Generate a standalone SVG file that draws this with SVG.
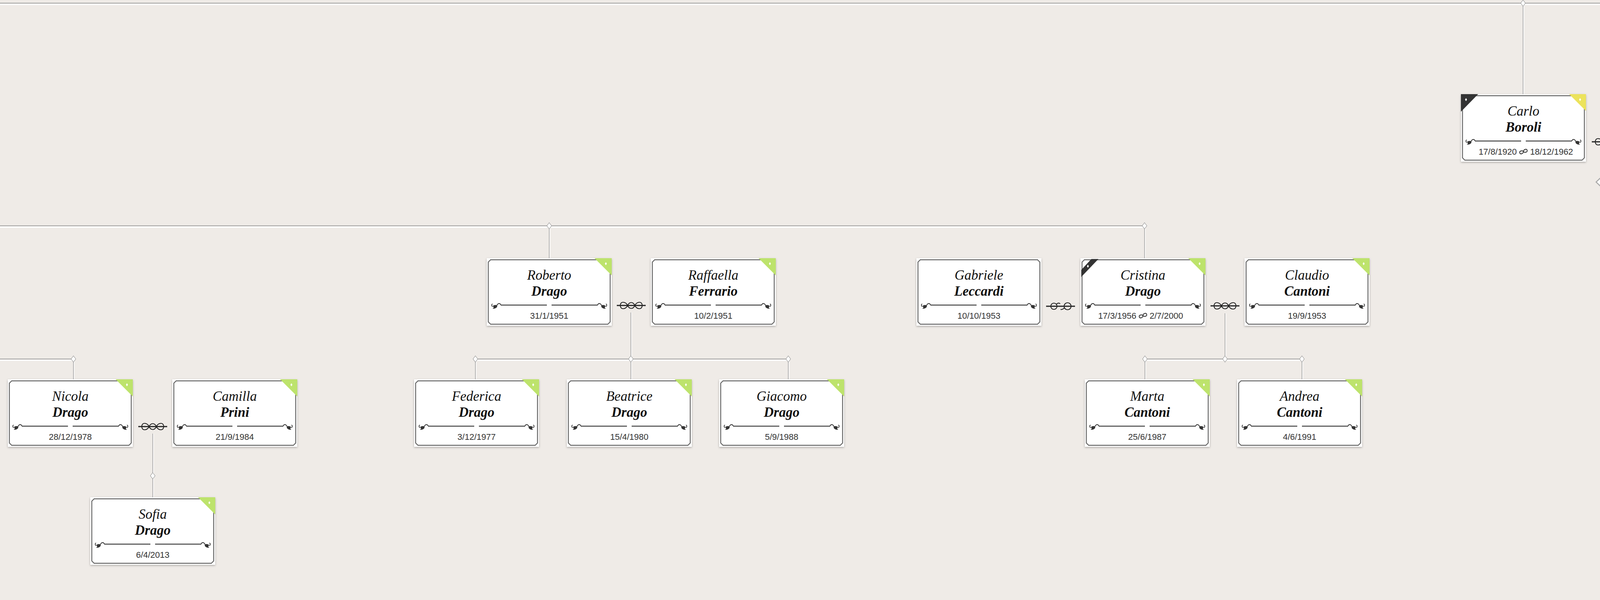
<svg xmlns="http://www.w3.org/2000/svg" width="8000" height="1536" viewBox="0 0 8000 1536">
<style>
.fn{font-family:"Liberation Serif","DejaVu Serif",serif;font-style:italic;font-size:35px;fill:#111;text-anchor:middle}
.ln{font-family:"Liberation Serif","DejaVu Serif",serif;font-style:italic;font-weight:bold;font-size:35px;fill:#111;text-anchor:middle}
.dt{font-family:"Liberation Sans",Arial,sans-serif;font-size:22px;fill:#333}
.c{text-anchor:middle}.e{text-anchor:end}.s{text-anchor:start}
.cg{stroke:#a4a4a4;stroke-width:2;fill:none}
.cw{stroke:#ffffff;stroke-width:3;fill:none}
.vg{stroke:#a4a4a4;stroke-width:1.6;fill:none}
.vw{stroke:#ffffff;stroke-width:1.6;fill:none}
.sym{fill:none;stroke:#222;stroke-width:2.2}
.pl{font-family:"Liberation Sans",Arial,sans-serif;font-weight:bold;font-size:26px;fill:#333;text-anchor:middle}
</style>
<defs>
<filter id="sh" x="-5%" y="-5%" width="110%" height="115%">
<feDropShadow dx="0" dy="2" stdDeviation="2.5" flood-color="#000" flood-opacity="0.28"/>
</filter>
<g id="base"><rect width="320" height="173" fill="#fff" filter="url(#sh)"/></g>
<path id="frame" d="M10,4 H310 L316,10 V163 L310,169 H10 L4,163 V10 Z" fill="none" stroke="#666" stroke-width="2.4"/>
<path id="frameNT" d="M4,17 V163 L10,169 H310 L316,163 V17" fill="none" stroke="#666" stroke-width="2.4"/>
<g id="orn">
<path d="M-10,1 C-7,-6 -1,-5 0,0" fill="none" stroke="#333" stroke-width="2"/>
<path d="M-9,2 C-9,7 -15,10 -21,9 C-17,7 -18,4 -21,3 C-17,-1 -11,-1 -9,2Z" fill="#333"/>
<path d="M-21,4 C-24,2 -24,-2 -21,-3" fill="none" stroke="#333" stroke-width="1.8"/>
</g>
<g id="div">
<path d="M36,120 H154 M166,120 H284" stroke="#444" stroke-width="2.5"/>
<use href="#orn" transform="translate(36,120)"/>
<use href="#orn" transform="translate(284,120) scale(-1,1)"/>
</g>
<g id="tlB"><path d="M0,0 H44 L0,45Z" fill="#333"/><path d="M13,10 L15.5,14 L13,18 L10.5,14Z" fill="#fff"/></g>
<g id="trG"><path d="M276,0 H320 V44Z" fill="#bde36c"/><path d="M305,10 L307.5,14 L305,18 L302.5,14Z" fill="#fff"/></g>
<g id="trY"><path d="M277,0 H320 V43Z" fill="#ece35c"/><path d="M305,10 L307.5,14 L305,18 L302.5,14Z" fill="#fff"/></g>
<g id="band"><path d="M28,2 H46 L2,48 V30Z" fill="#333"/><path d="M19,16.5 L21.5,20.5 L19,24.5 L16.5,20.5Z" fill="#fff"/></g>
<rect id="blue" x="0" y="3" width="320" height="13" fill="#d4ecf4"/>
<path id="ds" d="M0,0 C2,-5 10,-5 10,0 C10,5 2,5 0,0 C-2,-5 -10,-5 -10,0 C-10,5 -2,5 0,0Z" fill="none" stroke="#333" stroke-width="2" transform="rotate(-20)"/>
<path id="dm" d="M0,-8 L6,0 L0,8 L-6,0Z" fill="#fff" stroke="#999" stroke-width="1.2"/>
<g id="mar">
<path d="M-37,0 H37" stroke="#222" stroke-width="3"/>
<path class="sym" d="M-28,0 C-28,-12 -14,-10 -9.33,0 C-4.67,10 4.67,10 9.33,0 C14,-10 28,-12 28,0 M-28,0 C-28,12 -14,10 -9.33,0 C-4.67,-10 4.67,-10 9.33,0 C14,10 28,12 28,0"/>
</g>
<g id="sep">
<path d="M-37,0 H37" stroke="#222" stroke-width="3"/>
<circle class="sym" cx="-17" cy="0" r="8"/>
<path class="sym" d="M-11,-5 C-7,-9 -3,-9 -1,-6"/>
<circle class="sym" cx="18" cy="0" r="9"/>
<path class="sym" d="M10,4 C6,8 3,9 0,8"/>
</g>
<g id="plus">
<path d="M0,-23 L24,0 L0,23 L-24,0Z" fill="#f9f9f9" stroke="#a8a8a8" stroke-width="2.5"/>
<path d="M0,-18 L19,0 L0,18 L-19,0Z" fill="none" stroke="#fff" stroke-width="1.5"/>
</g>
</defs>
<rect width="8000" height="1536" fill="#efebe7"/>
<g id="connectors">
<path class="cw" d="M0,11.5 H5054 M0,581.5 H2930 M0,922.5 H188 M1217,922.5 H2018 M2931,922.5 H3333"/>
<path class="cg" d="M0,8 H5054 M0,578 H2930 M0,919 H188 M1217,919 H2018 M2931,919 H3333"/>
<path class="vw" d="M3901,12 V241 M5056,12 V239 M4112,382 V443 M5278,382 V443 M1408,582 V661 M2932,582 V661 M1617,800 V971 M1219,923 V971 M2020,923 V971 M3138,802 V919 M2933,923 V971 M3335,923 V971 M190,923 V971 M393,1110 V1273"/>
<path class="vg" d="M3899,8 V241 M5054,8 V239 M4110,382 V443 M5276,382 V443 M1406,578 V661 M2930,578 V661 M1615,800 V971 M1217,919 V971 M2018,919 V971 M3136,802 V919 M2931,919 V971 M3333,919 V971 M188,919 V971 M391,1110 V1273"/>
<use href="#dm" x="3899" y="8"/>
<use href="#dm" x="5054" y="8"/>
<use href="#dm" x="1406" y="578"/>
<use href="#dm" x="2930" y="578"/>
<use href="#dm" x="188" y="919"/>
<use href="#dm" x="1217" y="919"/>
<use href="#dm" x="1615" y="919"/>
<use href="#dm" x="2018" y="919"/>
<use href="#dm" x="2931" y="919"/>
<use href="#dm" x="3136" y="919"/>
<use href="#dm" x="3333" y="919"/>
<use href="#dm" x="391" y="1218"/>
<use href="#mar" x="4112" y="363"/>
<use href="#mar" x="5276" y="363"/>
<use href="#mar" x="1616" y="782"/>
<use href="#mar" x="3136" y="783"/>
<use href="#mar" x="391" y="1092"/>
<use href="#sep" x="2715" y="784"/>
<use href="#plus" x="4110" y="466"/>
<text class="pl" x="4110" y="476">+</text>
<use href="#plus" x="5276" y="466"/>
<text class="pl" x="5276" y="476">+</text>
</g>

<g id="n-carlo" transform="translate(3740,241)">
<use href="#base"/><use href="#frame"/><use href="#div"/><use href="#tlB"/><use href="#trY"/>
<text class="fn" x="160" y="55">Carlo</text><text class="ln" x="160" y="96">Boroli</text>
<text class="dt e" x="143" y="155">17/8/1920</text><use href="#ds" x="160" y="147"/><text class="dt s" x="177" y="155">18/12/1962</text>
</g>
<g id="n-fulvia" transform="translate(4169,241)">
<use href="#base"/><use href="#frame"/><use href="#div"/><use href="#tlB"/><use href="#trY"/>
<text class="fn" x="160" y="55">Fulvia</text><text class="ln" x="160" y="96">Gray De Cristoforis</text>
<text class="dt e" x="143" y="155">15/12/1919</text><use href="#ds" x="160" y="147"/><text class="dt s" x="177" y="155">24/9/1995</text>
</g>
<g id="n-adolfo" transform="translate(4901,240)">
<use href="#base"/><use href="#blue"/><use href="#frameNT"/><use href="#div"/><use href="#tlB"/>
<text class="fn" x="160" y="55">Adolfo</text><text class="ln" x="160" y="96">Boroli</text>
<text class="dt e" x="143" y="155">11/1/1923</text><use href="#ds" x="160" y="147"/><text class="dt s" x="177" y="155">21/2/1996</text>
</g>
<g id="n-giuliana" transform="translate(5327,240)">
<use href="#base"/><use href="#blue"/><use href="#frameNT"/><use href="#div"/><use href="#tlB"/>
<text class="fn" x="160" y="55">Giuliana</text><text class="ln" x="160" y="96">Broggi</text>
<text class="dt e" x="143" y="155">14/1/1923</text><use href="#ds" x="160" y="147"/><text class="dt s" x="177" y="155">20/7/2000</text>
</g>

<g id="n-roberto" transform="translate(1246,661)">
<use href="#base"/><use href="#frame"/><use href="#div"/><use href="#trG"/>
<text class="fn" x="160" y="55">Roberto</text><text class="ln" x="160" y="96">Drago</text>
<text class="dt c" x="160" y="155">31/1/1951</text>
</g>
<g id="n-raffaella" transform="translate(1666,661)">
<use href="#base"/><use href="#frame"/><use href="#div"/><use href="#trG"/>
<text class="fn" x="160" y="55">Raffaella</text><text class="ln" x="160" y="96">Ferrario</text>
<text class="dt c" x="160" y="155">10/2/1951</text>
</g>
<g id="n-gabriele" transform="translate(2346,661)">
<use href="#base"/><use href="#frame"/><use href="#div"/>
<text class="fn" x="160" y="55">Gabriele</text><text class="ln" x="160" y="96">Leccardi</text>
<text class="dt c" x="160" y="155">10/10/1953</text>
</g>
<g id="n-cristina" transform="translate(2766,661)">
<use href="#base"/><use href="#frame"/><use href="#div"/><use href="#band"/><use href="#trG"/>
<text class="fn" x="160" y="55">Cristina</text><text class="ln" x="160" y="96">Drago</text>
<text class="dt e" x="143" y="155">17/3/1956</text><use href="#ds" x="160" y="147"/><text class="dt s" x="177" y="155">2/7/2000</text>
</g>
<g id="n-claudio" transform="translate(3186,661)">
<use href="#base"/><use href="#frame"/><use href="#div"/><use href="#trG"/>
<text class="fn" x="160" y="55">Claudio</text><text class="ln" x="160" y="96">Cantoni</text>
<text class="dt c" x="160" y="155">19/9/1953</text>
</g>

<g id="n-nicola" transform="translate(20,971)">
<use href="#base"/><use href="#frame"/><use href="#div"/><use href="#trG"/>
<text class="fn" x="160" y="55">Nicola</text><text class="ln" x="160" y="96">Drago</text>
<text class="dt c" x="160" y="155">28/12/1978</text>
</g>
<g id="n-camilla" transform="translate(441,971)">
<use href="#base"/><use href="#frame"/><use href="#div"/><use href="#trG"/>
<text class="fn" x="160" y="55">Camilla</text><text class="ln" x="160" y="96">Prini</text>
<text class="dt c" x="160" y="155">21/9/1984</text>
</g>
<g id="n-federica" transform="translate(1060,971)">
<use href="#base"/><use href="#frame"/><use href="#div"/><use href="#trG"/>
<text class="fn" x="160" y="55">Federica</text><text class="ln" x="160" y="96">Drago</text>
<text class="dt c" x="160" y="155">3/12/1977</text>
</g>
<g id="n-beatrice" transform="translate(1451,971)">
<use href="#base"/><use href="#frame"/><use href="#div"/><use href="#trG"/>
<text class="fn" x="160" y="55">Beatrice</text><text class="ln" x="160" y="96">Drago</text>
<text class="dt c" x="160" y="155">15/4/1980</text>
</g>
<g id="n-giacomo" transform="translate(1841,971)">
<use href="#base"/><use href="#frame"/><use href="#div"/><use href="#trG"/>
<text class="fn" x="160" y="55">Giacomo</text><text class="ln" x="160" y="96">Drago</text>
<text class="dt c" x="160" y="155">5/9/1988</text>
</g>
<g id="n-marta" transform="translate(2777,971)">
<use href="#base"/><use href="#frame"/><use href="#div"/><use href="#trG"/>
<text class="fn" x="160" y="55">Marta</text><text class="ln" x="160" y="96">Cantoni</text>
<text class="dt c" x="160" y="155">25/6/1987</text>
</g>
<g id="n-andrea" transform="translate(3167,971)">
<use href="#base"/><use href="#frame"/><use href="#div"/><use href="#trG"/>
<text class="fn" x="160" y="55">Andrea</text><text class="ln" x="160" y="96">Cantoni</text>
<text class="dt c" x="160" y="155">4/6/1991</text>
</g>

<g id="n-sofia" transform="translate(231,1273)">
<use href="#base"/><use href="#frame"/><use href="#div"/><use href="#trG"/>
<text class="fn" x="160" y="55">Sofia</text><text class="ln" x="160" y="96">Drago</text>
<text class="dt c" x="160" y="155">6/4/2013</text>
</g>
</svg>
